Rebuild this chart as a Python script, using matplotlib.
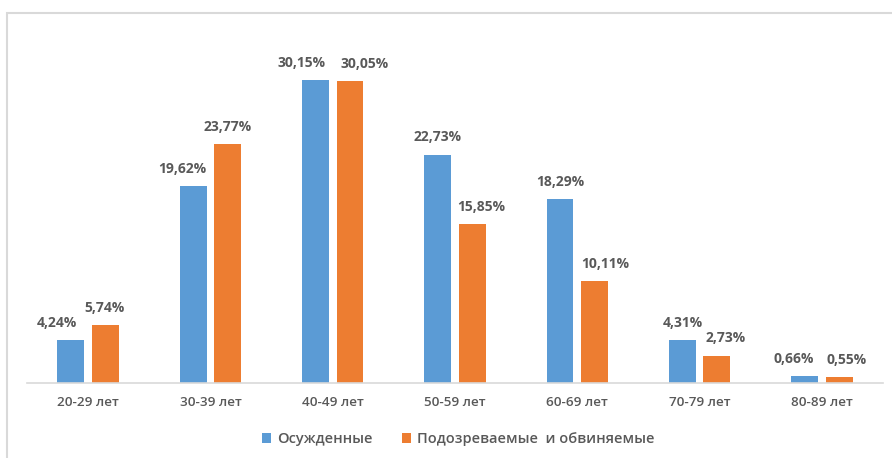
import matplotlib
matplotlib.use("Agg")
import matplotlib.pyplot as plt
import numpy as np
from matplotlib.patches import Rectangle

categories = ["20-29 лет", "30-39 лет", "40-49 лет", "50-59 лет", "60-69 лет", "70-79 лет", "80-89 лет"]
convicted = [4.24, 19.62, 30.15, 22.73, 18.29, 4.31, 0.66]
suspects = [5.74, 23.77, 30.05, 15.85, 10.11, 2.73, 0.55]
series_names = ["Осужденные", "Подозреваемые  и обвиняемые"]

BLUE = "#5B9BD5"
ORANGE = "#ED7D31"
TXT = "#595959"

plt.rcParams['font.family'] = ['Open Sans', 'DejaVu Sans']

W, H = 892, 458
fig = plt.figure(figsize=(W / 100, H / 100), dpi=100)
fig.patch.set_facecolor("white")

# outer chart border (cut off at right/bottom)
fig.patches.append(Rectangle((7 / W, -0.1), 1.2, (H - 13) / H + 0.1, transform=fig.transFigure,
                             fill=False, edgecolor="#d9d9d9", linewidth=1.5))

left, right, bottom, top = 27, 883, 383, 20
ax = fig.add_axes([left / W, 1 - bottom / H, (right - left) / W, (bottom - top) / H])
px_per = 10.05
ax.set_ylim(0, (bottom - top) / px_per)
x = np.arange(len(categories))
ax.set_xlim(-0.5, len(categories) - 0.5)

w = 0.22
off = 0.141
b1 = ax.bar(x - off, convicted, w, color=BLUE, label=series_names[0])
b2 = ax.bar(x + off, suspects, w, color=ORANGE, label=series_names[1])

# horizontal nudges (pixels) for label placement, as in the original
nudge_px = {(0, 0): -14, (1, 0): -1, (0, 1): -11, (0, 2): -14, (1, 2): 15,
            (1, 3): 9, (1, 4): 11, (1, 5): 8.5, (0, 6): -11, (1, 6): 7}
for si, (bars, vals) in enumerate(((b1, convicted), (b2, suspects))):
    for i, (r, v) in enumerate(zip(bars, vals)):
        ax.annotate(f"{v:.2f}%".replace(".", ","), (r.get_x() + r.get_width() / 2, v),
                    xytext=(nudge_px.get((si, i), 0) * 0.72, 12.3), textcoords="offset points",
                    ha="center", va="center",
                    fontsize=10, fontweight="bold", color=TXT)

for s in ["top", "left", "right"]:
    ax.spines[s].set_visible(False)
ax.spines["bottom"].set_color("#d9d9d9")
ax.spines["bottom"].set_linewidth(1.2)
ax.set_yticks([])
ax.set_xticks(x)
ax.set_xticklabels(categories, fontsize=9.7, color=TXT, fontweight="semibold")
ax.tick_params(axis="x", length=0, pad=9)

fig.legend(handles=[b1, b2], labels=series_names, loc="center",
           bbox_to_anchor=(458 / W, 1 - 439 / H), ncol=2, frameon=False,
           prop={"size": 10.5, "weight": "semibold"}, labelcolor=TXT,
           handlelength=0.65, handleheight=0.65, handletextpad=0.4, columnspacing=2.0)

fig.savefig("out.png", dpi=100, facecolor="white")
